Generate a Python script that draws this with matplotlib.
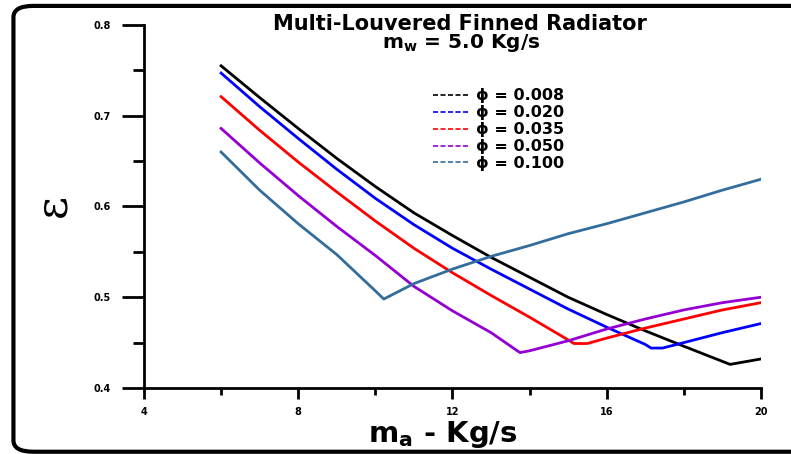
import matplotlib
matplotlib.use('Agg')
import matplotlib.pyplot as plt
from matplotlib.lines import Line2D
from matplotlib.patches import FancyBboxPatch

# phi values and colours
phi_labels = ['0.008', '0.020', '0.035', '0.050', '0.100']
colors = ['#000000', '#0000ff', '#ff0000', '#9400d3', '#336d9c']

# air mass flow rate (Kg/s) and effectiveness for each curve
x_008 = [6, 7, 8, 9, 10, 11, 12, 13, 14, 15, 16, 17, 18, 19.2, 20]
e_008 = [0.755, 0.720, 0.686, 0.653, 0.622, 0.593, 0.568, 0.544, 0.522,
         0.500, 0.481, 0.463, 0.446, 0.426, 0.432]

x_020 = [6, 7, 8, 9, 10, 11, 12, 13, 14, 15, 16, 17, 17.15, 17.45, 18, 19, 20]
e_020 = [0.747, 0.710, 0.675, 0.641, 0.609, 0.580, 0.554, 0.531, 0.509,
         0.487, 0.467, 0.448, 0.444, 0.444, 0.450, 0.461, 0.471]

x_035 = [6, 7, 8, 9, 10, 11, 12, 13, 14, 15, 15.15, 15.5, 16, 17, 18, 19, 20]
e_035 = [0.721, 0.684, 0.649, 0.616, 0.584, 0.554, 0.527, 0.502, 0.478,
         0.453, 0.449, 0.449, 0.455, 0.466, 0.476, 0.486, 0.494]

x_050 = [6, 7, 8, 9, 10, 11, 12, 13, 13.75, 14, 15, 16, 17, 18, 19, 20]
e_050 = [0.686, 0.648, 0.612, 0.578, 0.546, 0.512, 0.485, 0.461, 0.439,
         0.441, 0.452, 0.465, 0.476, 0.486, 0.494, 0.500]

x_100 = [6, 7, 8, 9, 10, 10.22, 11, 12, 13, 14, 15, 16, 17, 18, 19, 20]
e_100 = [0.660, 0.618, 0.581, 0.547, 0.507, 0.498, 0.515, 0.531, 0.545,
         0.557, 0.570, 0.581, 0.593, 0.605, 0.618, 0.630]

xs = [x_008, x_020, x_035, x_050, x_100]
es = [e_008, e_020, e_035, e_050, e_100]

plt.rcParams['font.family'] = ['DejaVu Sans']

fig = plt.figure(figsize=(7.91, 4.54), dpi=100)
ax = fig.add_axes([0.182, 0.1454, 0.780, 0.7996])

for xd, ed, c in zip(xs, es, colors):
    ax.plot(xd, ed, color=c, lw=2)

ax.set_xlim(4, 20)
ax.set_ylim(0.4, 0.8)
ax.set_xticks([4, 8, 12, 16, 20])
ax.set_xticks([6, 10, 14, 18], minor=True)
ax.set_yticks([0.4, 0.5, 0.6, 0.7, 0.8])
ax.set_yticks([0.45, 0.55, 0.65, 0.75], minor=True)
ax.set_yticklabels(['0.4', '0.5', '0.6', '0.7', '0.8'])

for s in ['top', 'right']:
    ax.spines[s].set_visible(False)
for s in ['left', 'bottom']:
    ax.spines[s].set_linewidth(2)

ax.tick_params(axis='x', which='major', length=8, width=2, pad=6)
ax.tick_params(axis='x', which='minor', length=5, width=2)
ax.tick_params(axis='y', which='major', length=16, width=2, pad=8)
ax.tick_params(axis='y', which='minor', length=8, width=2)
for lab in ax.get_xticklabels() + ax.get_yticklabels():
    lab.set_fontsize(7)
    lab.set_fontweight('bold')

# axis labels
fig.text(0.56, 0.027, r'm$_\mathbf{a}$ - Kg/s', fontsize=21, fontweight='bold',
         ha='center', va='baseline')
fig.text(0.067, 0.548, '\u03b5', rotation=90, fontsize=32, ha='center', va='center',
         family='DejaVu Serif')

fig.text(0.582, 0.935, 'Multi-Louvered Finned Radiator', fontsize=15,
         fontweight='bold', ha='center', va='baseline')
fig.text(0.583, 0.895, r'm$_\mathbf{w}$ = 5.0 Kg/s', fontsize=14.5,
         fontweight='bold', ha='center', va='baseline')

handles = [Line2D([], [], color=c, lw=1.2, ls=(0, (3, 1.5))) for c in colors]
labels = ['\u03d5 = ' + p for p in phi_labels]
leg = ax.legend(handles, labels, loc='upper left', bbox_to_anchor=(0.445, 0.865),
                frameon=False, handlelength=2.2, handletextpad=0.5,
                labelspacing=0.12, prop={'weight': 'bold', 'size': 11.5})

frame = FancyBboxPatch((0.017, 0.005), 1.1, 0.982,
                       boxstyle='round,pad=0,rounding_size=0.025',
                       transform=fig.transFigure, fill=False, lw=3, ec='black')
fig.patches.append(frame)

fig.savefig('out.png', dpi=100)
